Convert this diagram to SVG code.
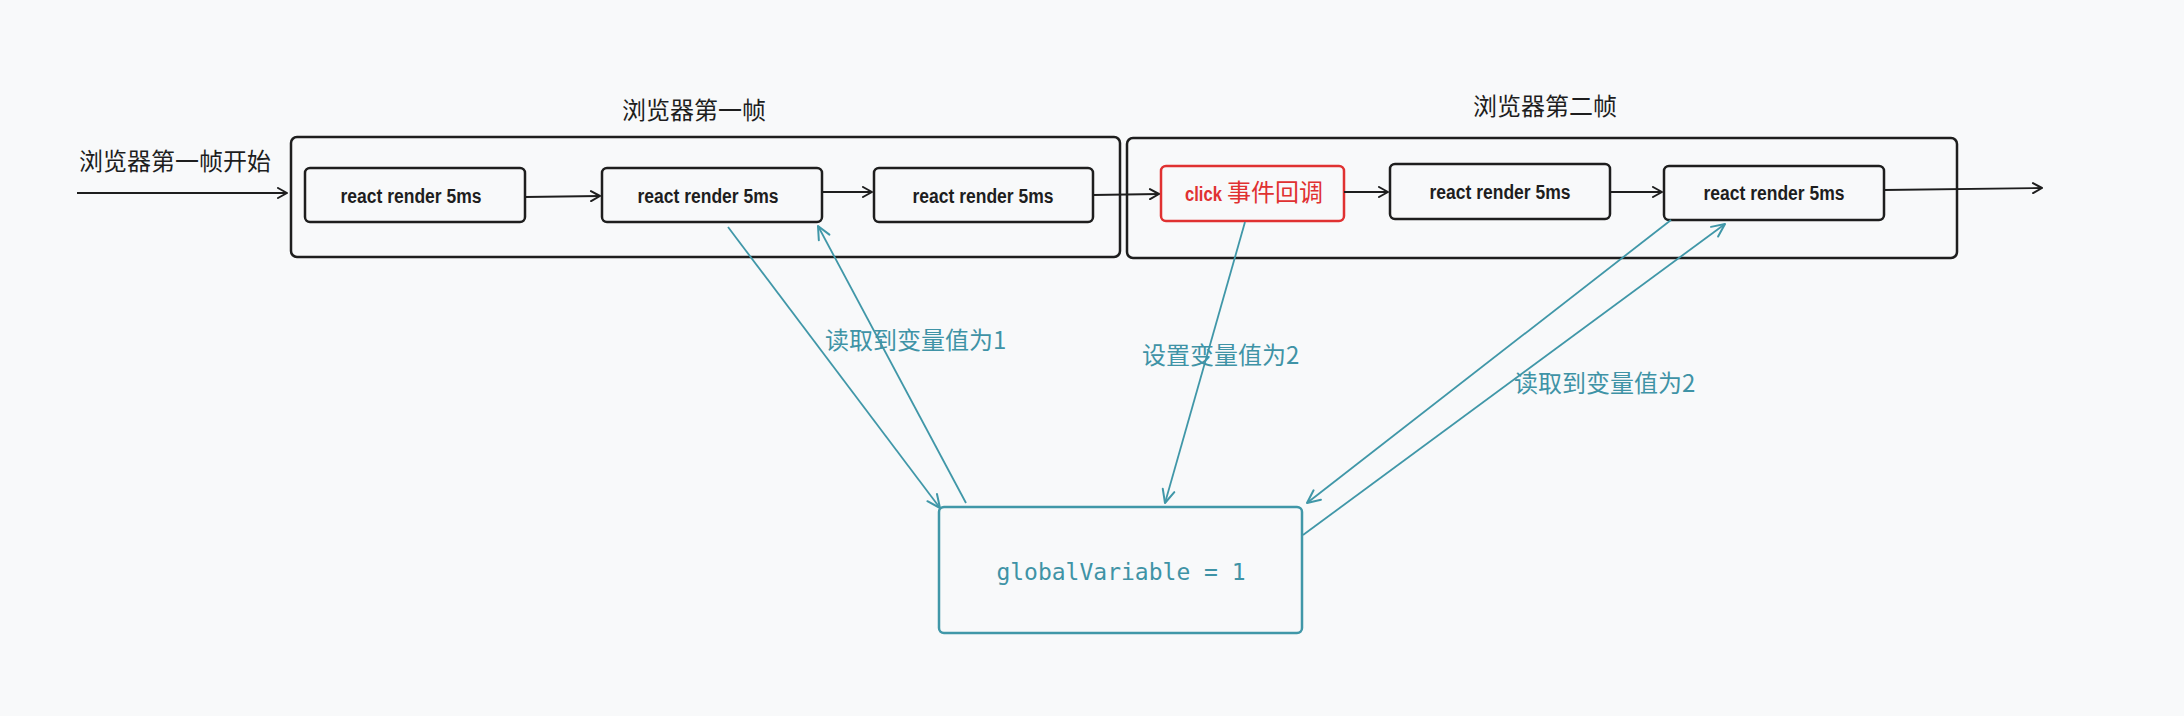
<svg xmlns="http://www.w3.org/2000/svg" width="2184" height="716" viewBox="0 0 2184 716">
<style>
.frame{fill:none;stroke:#1e1e1e;stroke-width:2.5}
.box{fill:none;stroke:#1e1e1e;stroke-width:2.5}
.red{fill:none;stroke:#e03131;stroke-width:2.5}
.gbox{fill:none;stroke:#4097a8;stroke-width:2.5}
.cn{font-family:"Noto Sans CJK SC","Noto Sans",sans-serif;font-size:24px}
.lbl{fill:#1e1e1e}
.teal{fill:#3f93a6}
.hand{font-family:"Liberation Sans",Arial,sans-serif;font-weight:bold;font-size:20px;fill:#1e1e1e}
.mono{font-family:"DejaVu Sans Mono","Liberation Mono",monospace;font-size:23px;fill:#3f93a6}
.bl{stroke:#1e1e1e;stroke-width:1.8;fill:none;marker-end:url(#ah)}
.tl{stroke:#4097a8;stroke-width:1.8;fill:none;marker-end:url(#th)}
</style>
<defs>
<marker id="ah" viewBox="0 0 12 12" refX="11" refY="6" markerWidth="12" markerHeight="12" markerUnits="userSpaceOnUse" orient="auto"><path d="M2,1 L11,6 L2,11" fill="none" stroke="#1e1e1e" stroke-width="2" stroke-linecap="round" stroke-linejoin="round"/></marker>
<marker id="th" viewBox="0 0 16 16" refX="15" refY="8" markerWidth="16" markerHeight="16" markerUnits="userSpaceOnUse" orient="auto"><path d="M2,2 L15,8 L2,14" fill="none" stroke="#4097a8" stroke-width="2" stroke-linecap="round" stroke-linejoin="round"/></marker>
</defs>
<rect x="0" y="0" width="2184" height="716" fill="#f8f9fa"/>

<g id="start-label"><text class="cn lbl" x="79" y="170">浏览器第一帧开始</text></g>

<g id="frame1">
<rect class="frame" x="291" y="137" width="829" height="120" rx="6"/>
<text class="cn lbl" x="694" y="119" text-anchor="middle">浏览器第一帧</text>
</g>
<g id="frame2">
<rect class="frame" x="1127" y="138" width="830" height="120" rx="6"/>
<text class="cn lbl" x="1545" y="115" text-anchor="middle">浏览器第二帧</text>
</g>

<g id="box1"><rect class="box" x="305" y="168" width="220" height="54" rx="5"/><text class="hand" x="411" y="203" text-anchor="middle" textLength="141" lengthAdjust="spacingAndGlyphs">react render 5ms</text></g>
<g id="box2"><rect class="box" x="602" y="168" width="220" height="54" rx="5"/><text class="hand" x="708" y="203" text-anchor="middle" textLength="141" lengthAdjust="spacingAndGlyphs">react render 5ms</text></g>
<g id="box3"><rect class="box" x="874" y="168" width="219" height="54" rx="5"/><text class="hand" x="983" y="203" text-anchor="middle" textLength="141" lengthAdjust="spacingAndGlyphs">react render 5ms</text></g>
<g id="click"><rect class="red" x="1161" y="166" width="183" height="55" rx="5"/><text x="1185" y="201"><tspan class="hand" style="fill:#e03131" textLength="37" lengthAdjust="spacingAndGlyphs">click</tspan><tspan class="cn" style="fill:#e03131" dx="5">事件回调</tspan></text></g>
<g id="box5"><rect class="box" x="1390" y="164" width="220" height="55" rx="5"/><text class="hand" x="1500" y="199" text-anchor="middle" textLength="141" lengthAdjust="spacingAndGlyphs">react render 5ms</text></g>
<g id="box6"><rect class="box" x="1664" y="166" width="220" height="54" rx="5"/><text class="hand" x="1774" y="200" text-anchor="middle" textLength="141" lengthAdjust="spacingAndGlyphs">react render 5ms</text></g>

<g id="global"><rect class="gbox" x="939" y="507" width="363" height="126" rx="5"/><text class="mono" x="1121" y="580" text-anchor="middle">globalVariable = 1</text></g>

<g id="connectors">
<line class="bl" x1="77" y1="193" x2="287" y2="193"/>
<line class="bl" x1="525" y1="197" x2="600" y2="196"/>
<line class="bl" x1="822" y1="192" x2="872" y2="192"/>
<line class="bl" x1="1093" y1="195" x2="1159" y2="194"/>
<line class="bl" x1="1344" y1="192" x2="1388" y2="192"/>
<line class="bl" x1="1610" y1="192" x2="1662" y2="192"/>
<line class="bl" x1="1884" y1="190" x2="2042" y2="188"/>
<line class="tl" x1="728" y1="227" x2="940" y2="508"/>
<line class="tl" x1="966" y1="503" x2="818" y2="226"/>
<line class="tl" x1="1245" y1="222" x2="1165" y2="503"/>
<line class="tl" x1="1671" y1="220" x2="1307" y2="503"/>
<line class="tl" x1="1303" y1="535" x2="1725" y2="224"/>
</g>
<g id="labels">
<text class="cn teal" x="825" y="349">读取到变量值为1</text>
<text class="cn teal" x="1142" y="364">设置变量值为2</text>
<text class="cn teal" x="1514" y="392">读取到变量值为2</text>
</g>
</svg>
